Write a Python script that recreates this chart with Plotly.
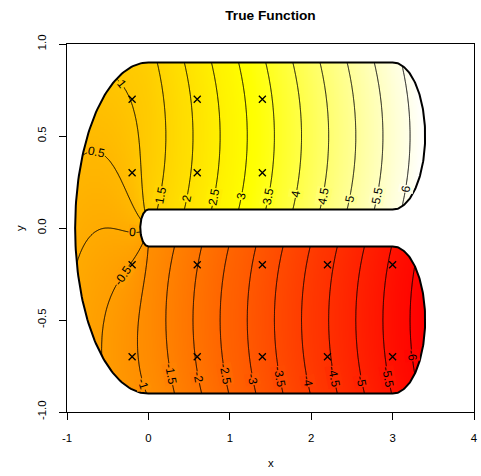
import colorsys
import numpy as np
import plotly.graph_objects as go

# ---------------- values ----------------
# horseshoe domain geometry
slot_half_width = 0.1      # r0
centre_radius = 0.5        # r
arm_length = 3.0           # l
# true function: f = slope * (distance along centre line) + curv * (distance from centre line)^2
slope = 1.5
curv = 1.0

contour_levels = [-6.0, -5.5, -5.0, -4.5, -4.0, -3.5, -3.0, -2.5, -2.0, -1.5, -1.0, -0.5,
                  0.0, 0.5, 1.0, 1.5, 2.0, 2.5, 3.0, 3.5, 4.0, 4.5, 5.0, 5.5, 6.0]

knot_x = [-0.2, 0.6, 1.4, -0.2, 0.6, 1.4,
          -0.2, 0.6, 1.4, 2.2, 3.0, -0.2, 0.6, 1.4, 2.2, 3.0]
knot_y = [0.7, 0.7, 0.7, 0.3, 0.3, 0.3,
          -0.2, -0.2, -0.2, -0.2, -0.2, -0.7, -0.7, -0.7, -0.7, -0.7]

label_text = ["1", "0.5", "0", "-0.5", "-1",
              "1.5", "2", "2.5", "3", "3.5", "4", "4.5", "5", "5.5", "6",
              "-1.5", "-2", "-2.5", "-3", "-3.5", "-4", "-4.5", "-5", "-5.5", "-6"]
label_x = [-0.33, -0.64, -0.20, -0.32, -0.07,
           0.16, 0.48, 0.80, 1.15, 1.48, 1.82, 2.16, 2.49, 2.82, 3.17,
           0.26, 0.61, 0.93, 1.27, 1.61, 1.94, 2.28, 2.61, 2.94, 3.24]
label_y = [0.78, 0.39, -0.02, -0.26, -0.85,
           0.17, 0.16, 0.17, 0.17, 0.17, 0.18, 0.17, 0.15, 0.17, 0.21,
           -0.80, -0.81, -0.80, -0.83, -0.81, -0.84, -0.81, -0.84, -0.81, -0.69]

x_ticks = [-1, 0, 1, 2, 3, 4]
x_tick_text = ["-1", "0", "1", "2", "3", "4"]
y_ticks = [-1.0, -0.5, 0.0, 0.5, 1.0]
y_tick_text = ["-1.0", "-0.5", "0.0", "0.5", "1.0"]

title_text = "True Function"

# ---------------- the function and domain ----------------
def true_function(x, y):
    x = np.asarray(x, float)
    y = np.asarray(y, float)
    q = np.pi * centre_radius / 2
    a = np.zeros_like(x)
    d = np.zeros_like(x)
    ind = (x >= 0) & (y > 0)
    a[ind] = q + x[ind]
    d[ind] = y[ind] - centre_radius
    ind = (x >= 0) & (y <= 0)
    a[ind] = -q - x[ind]
    d[ind] = -centre_radius - y[ind]
    ind = x < 0
    a[ind] = -np.arctan(y[ind] / x[ind]) * centre_radius
    d[ind] = np.sqrt(x[ind] ** 2 + y[ind] ** 2) - centre_radius
    return slope * a + curv * d ** 2


def inside(x, y):
    d = np.where(x >= 0, np.where(y > 0, y - centre_radius, -centre_radius - y),
                 np.sqrt(x ** 2 + y ** 2) - centre_radius)
    w = centre_radius - slot_half_width
    out = (np.abs(d) > w) | ((x > arm_length) & ((x - arm_length) ** 2 + d ** 2 > w ** 2))
    return ~out


def boundary(n_theta=60):
    r0, r, l = slot_half_width, centre_radius, arm_length
    rr = r + (r - r0)
    th = np.linspace(np.pi, np.pi / 2, n_theta)
    bx = list(rr * np.cos(th)); by = list(rr * np.sin(th))
    th = np.linspace(np.pi / 2, -np.pi / 2, 2 * n_theta)
    bx += list((r - r0) * np.cos(th) + l); by += list((r - r0) * np.sin(th) + r)
    th = np.linspace(np.pi / 2, np.pi, n_theta)
    bx += list(r0 * np.cos(th)); by += list(r0 * np.sin(th))
    bx = bx + bx[::-1]
    by = by + [-v for v in by[::-1]]
    return bx, by

# grid
step = 0.01
gx = np.arange(-0.965, 3.47, step)
gy = np.arange(-0.965, 0.97, step)
GX, GY = np.meshgrid(gx, gy)
Z = true_function(GX, GY)
IN = inside(GX, GY)
zmin = float(Z[IN].min()); zmax = float(Z[IN].max())
Zr = np.round(Z, 3)

# R heat.colors
def heat_colors(n):
    j = n // 4
    i = n - j
    cols = []
    for k in range(i):
        cols.append(colorsys.hsv_to_rgb((1 / 6) * k / (i - 1), 1, 1))
    s_from, s_to = 1 - 1 / (2 * j), 1 / (2 * j)
    for k in range(j):
        cols.append(colorsys.hsv_to_rgb(1 / 6, s_from + (s_to - s_from) * k / (j - 1), 1))
    return cols

NC = 120
hc = heat_colors(NC)
def rgbstr(c):
    return "rgb(%d,%d,%d)" % tuple(int(round(v * 255)) for v in c)
colorscale = [[0.0, rgbstr(hc[0])]]
for k, c in enumerate(hc):
    colorscale.append([(k + 0.5) / NC, rgbstr(c)])
colorscale.append([1.0, rgbstr(hc[-1])])

def color_at(v):
    p = (v - zmin) / (zmax - zmin)
    k = int(min(max(np.floor(p * NC), 0), NC - 1))
    return rgbstr(hc[k])

fig = go.Figure()
fig.add_trace(go.Heatmap(x=gx, y=gy, z=Zr, colorscale=colorscale, zmin=zmin, zmax=zmax,
                         showscale=False, hoverinfo="skip"))
fig.add_trace(go.Contour(x=gx, y=gy, z=Zr, showscale=False, hoverinfo="skip",
                         contours=dict(coloring="lines", start=contour_levels[0],
                                       end=contour_levels[-1],
                                       size=contour_levels[1] - contour_levels[0],
                                       showlabels=False),
                         colorscale=[[0, "black"], [1, "black"]],
                         line=dict(width=1, smoothing=0)))

# white mask outside the domain (keyhole polygon)
bx, by = boundary()
mx = [-1.2, -1.2, 4.2, 4.2, -1.2, -1.2] + bx + [bx[0], -1.2]
my = [0.0, -1.2, -1.2, 1.2, 1.2, 0.0] + by + [by[0], 0.0]
fig.add_trace(go.Scatter(x=mx, y=my, mode="lines", fill="toself", fillcolor="white",
                         line=dict(width=0, color="white"), hoverinfo="skip"))
fig.add_trace(go.Scatter(x=bx + [bx[0]], y=by + [by[0]], mode="lines",
                         line=dict(color="black", width=2), hoverinfo="skip"))
fig.add_trace(go.Scatter(x=knot_x, y=knot_y, mode="markers",
                         marker=dict(symbol="x-thin", size=7, color="black",
                                     line=dict(width=1.3, color="black")),
                         hoverinfo="skip"))

# contour labels
SX = 410 / 5.0
SY = 368 / 2.0
def grad(px, py, h=1e-4):
    fx = (true_function([px + h], [py])[0] - true_function([px - h], [py])[0]) / (2 * h)
    fy = (true_function([px], [py + h])[0] - true_function([px], [py - h])[0]) / (2 * h)
    return fx, fy

for t, lx, ly in zip(label_text, label_x, label_y):
    lev = float(t)
    px, py = lx, ly
    for _ in range(20):
        fv = true_function([px], [py])[0] - lev
        fx, fy = grad(px, py)
        g2 = fx * fx + fy * fy
        px -= fv * fx / g2
        py -= fv * fy / g2
    fx, fy = grad(px, py)
    tx, ty = -fy, fx
    ang = np.degrees(np.arctan2(-ty * SY, tx * SX))
    while ang > 90:
        ang -= 180
    while ang <= -90:
        ang += 180
    fig.add_annotation(x=px, y=py, xref="x", yref="y", text=t, showarrow=False,
                       textangle=ang, font=dict(size=12, color="black"),
                       bgcolor=color_at(lev), borderpad=0, xanchor="center", yanchor="middle")

fig.add_annotation(text="x", xref="paper", yref="paper", x=0.5, y=0, yshift=-51,
                   showarrow=False, font=dict(size=11.4), xanchor="center", yanchor="middle")
fig.add_annotation(text="y", xref="paper", yref="paper", x=0, y=0.5, xshift=-47,
                   showarrow=False, font=dict(size=11.4), textangle=-90,
                   xanchor="center", yanchor="middle")

fig.update_layout(
    width=481, height=476,
    margin=dict(l=67, r=4, t=44, b=64),
    paper_bgcolor="white", plot_bgcolor="white",
    showlegend=False,
    font=dict(family="Liberation Sans, Arial, sans-serif", size=11.4, color="black"),
    title=dict(text="<b>" + title_text + "</b>", x=0.5, xref="paper", xanchor="center",
               y=1 - 15 / 476, yref="container", yanchor="middle",
               font=dict(size=13.7)),
    xaxis=dict(range=[-1, 4], tickvals=x_ticks, ticktext=x_tick_text, ticks="outside",
               ticklen=7, tickcolor="black", showline=True, mirror=True, linecolor="black",
               linewidth=1, showgrid=False, zeroline=False, ticklabelstandoff=8),
    yaxis=dict(range=[-1, 1], tickvals=y_ticks, ticktext=y_tick_text, ticks="outside",
               ticklen=7, tickcolor="black", showline=True, mirror=True, linecolor="black",
               linewidth=1, showgrid=False, zeroline=False, tickangle=-90,
               ticklabelstandoff=8),
)

fig.write_html("out.html", config={"displayModeBar": False},
               post_script="document.body.style.margin='0px';")
